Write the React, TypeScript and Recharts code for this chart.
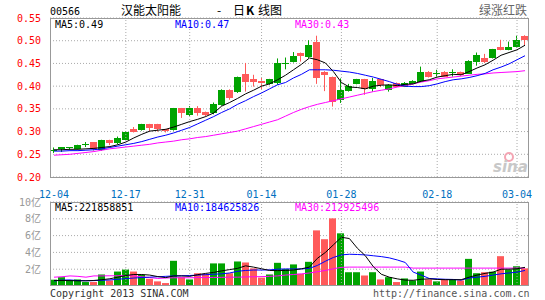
import React from 'react';
import { ComposedChart, Bar, Line, XAxis, YAxis, CartesianGrid, ReferenceLine } from 'recharts';

const tickIdx = [0, 9, 17, 26, 36, 48, 58];
const tickLabels = ['12-04', '12-17', '12-31', '01-14', '01-28', '02-18', '03-04'];
const priceTicks = [0.2, 0.25, 0.3, 0.35, 0.4, 0.45, 0.5, 0.55];
const volTicks = [2, 4, 6, 8, 10];

const open = [0.259, 0.261, 0.262, 0.262, 0.271, 0.276, 0.260, 0.281, 0.274, 0.283,
  0.305, 0.303, 0.316, 0.316, 0.305, 0.303, 0.351, 0.335, 0.352, 0.343,
  0.340, 0.359, 0.392, 0.386, 0.427, 0.415, 0.412, 0.405, 0.406, 0.449,
  0.453, 0.472, 0.464, 0.497, 0.432, 0.420, 0.369, 0.390, 0.405, 0.415,
  0.395, 0.415, 0.393, 0.407, 0.399, 0.405, 0.410, 0.432, 0.428, 0.432,
  0.430, 0.431, 0.428, 0.454, 0.462, 0.462, 0.486, 0.480, 0.486, 0.511];
const high = [0.265, 0.266, 0.266, 0.271, 0.277, 0.277, 0.282, 0.282, 0.289, 0.301,
  0.310, 0.317, 0.317, 0.317, 0.306, 0.352, 0.352, 0.356, 0.356, 0.344,
  0.364, 0.393, 0.393, 0.421, 0.451, 0.425, 0.418, 0.416, 0.461, 0.463,
  0.475, 0.474, 0.501, 0.511, 0.433, 0.421, 0.417, 0.405, 0.416, 0.416,
  0.418, 0.416, 0.404, 0.408, 0.409, 0.413, 0.443, 0.433, 0.436, 0.433,
  0.437, 0.432, 0.457, 0.474, 0.471, 0.482, 0.502, 0.498, 0.511, 0.512];
const low = [0.253, 0.255, 0.260, 0.261, 0.266, 0.258, 0.258, 0.270, 0.272, 0.282,
  0.298, 0.302, 0.301, 0.300, 0.298, 0.302, 0.330, 0.334, 0.335, 0.333,
  0.338, 0.357, 0.370, 0.385, 0.388, 0.399, 0.392, 0.403, 0.403, 0.437,
  0.452, 0.454, 0.462, 0.405, 0.389, 0.355, 0.363, 0.388, 0.404, 0.381,
  0.388, 0.398, 0.388, 0.398, 0.398, 0.404, 0.409, 0.419, 0.421, 0.420,
  0.421, 0.423, 0.427, 0.445, 0.451, 0.461, 0.479, 0.479, 0.485, 0.490];
const close = [0.260, 0.265, 0.265, 0.270, 0.272, 0.261, 0.281, 0.275, 0.285, 0.300,
  0.299, 0.316, 0.307, 0.305, 0.300, 0.351, 0.340, 0.351, 0.340, 0.336,
  0.360, 0.392, 0.374, 0.420, 0.410, 0.408, 0.407, 0.415, 0.451, 0.450,
  0.466, 0.466, 0.490, 0.418, 0.426, 0.366, 0.391, 0.401, 0.415, 0.392,
  0.412, 0.401, 0.403, 0.399, 0.408, 0.412, 0.431, 0.420, 0.429, 0.421,
  0.431, 0.424, 0.456, 0.469, 0.453, 0.481, 0.480, 0.486, 0.502, 0.502];
const ma5 = [0.260, 0.260, 0.261, 0.261, 0.262, 0.263, 0.265, 0.267, 0.271, 0.277,
  0.286, 0.294, 0.301, 0.303, 0.305, 0.310, 0.316, 0.322, 0.327, 0.333,
  0.341, 0.356, 0.364, 0.373, 0.383, 0.391, 0.400, 0.405, 0.414, 0.424,
  0.436, 0.448, 0.462, 0.458, 0.451, 0.432, 0.408, 0.398, 0.397, 0.394,
  0.400, 0.402, 0.403, 0.401, 0.404, 0.405, 0.411, 0.414, 0.420, 0.423,
  0.426, 0.425, 0.432, 0.440, 0.447, 0.457, 0.468, 0.474, 0.480, 0.490];
const ma10 = [0.257, 0.257, 0.258, 0.258, 0.259, 0.260, 0.262, 0.265, 0.268, 0.271,
  0.274, 0.278, 0.283, 0.288, 0.292, 0.297, 0.303, 0.309, 0.317, 0.325,
  0.333, 0.342, 0.350, 0.360, 0.368, 0.377, 0.385, 0.394, 0.403, 0.408,
  0.418, 0.426, 0.436, 0.436, 0.436, 0.435, 0.433, 0.431, 0.428, 0.424,
  0.420, 0.415, 0.410, 0.404, 0.400, 0.399, 0.399, 0.401, 0.405, 0.410,
  0.414, 0.416, 0.419, 0.423, 0.428, 0.436, 0.442, 0.449, 0.458, 0.467];
const ma30 = [0.248, 0.249, 0.250, 0.252, 0.254, 0.256, 0.259, 0.262, 0.264, 0.266,
  0.268, 0.270, 0.272, 0.275, 0.277, 0.279, 0.282, 0.284, 0.287, 0.289,
  0.292, 0.295, 0.298, 0.301, 0.306, 0.311, 0.316, 0.321, 0.326, 0.334,
  0.342, 0.349, 0.355, 0.360, 0.364, 0.368, 0.372, 0.376, 0.380, 0.384,
  0.388, 0.391, 0.394, 0.398, 0.401, 0.405, 0.409, 0.412, 0.416, 0.418,
  0.420, 0.422, 0.424, 0.426, 0.427, 0.429, 0.430, 0.431, 0.432, 0.434];

// volume in 亿
const vol = [0.75, 1.05, 0.66, 0.78, 0.47, 0.47, 1.37, 0.66, 1.72, 1.95,
  1.72, 1.33, 0.86, 0.55, 0.35, 3.0, 1.05, 0.78, 1.52, 1.44,
  2.69, 2.69, 1.52, 2.92, 2.8, 2.1, 1.0, 1.37, 2.76, 2.03,
  2.57, 1.45, 2.88, 6.62, 5.57, 8.05, 6.27, 1.64, 1.64, 1.25,
  1.64, 0.78, 1.05, 0.47, 0.9, 0.66, 1.72, 0.78, 0.55, 0.78,
  0.78, 0.66, 3.23, 1.52, 1.64, 1.7, 3.55, 1.95, 2.35, 2.1];
const vma5 = [0.66, 0.66, 0.64, 0.62, 0.62, 0.66, 0.75, 0.86, 1.05, 1.25,
  1.37, 1.37, 1.3, 1.12, 1.0, 1.2, 1.2, 1.15, 1.35, 1.5,
  1.62, 1.8, 1.95, 2.1, 2.4, 2.25, 2.05, 1.85, 1.83, 1.85,
  1.9, 2.05, 2.25, 3.3, 4.0, 4.9, 5.8, 5.65, 4.5, 3.6,
  2.3, 1.4, 1.05, 0.85, 0.7, 0.68, 0.8, 0.85, 0.78, 0.75,
  0.75, 0.75, 1.05, 1.3, 1.5, 1.65, 2.0, 2.0, 2.05, 2.22];
const vma10 = [0.6, 0.7, 0.72, 0.65, 0.62, 0.64, 0.68, 0.72, 0.8, 0.88,
  0.95, 1.0, 1.05, 1.1, 1.15, 1.2, 1.22, 1.25, 1.3, 1.35,
  1.4, 1.45, 1.55, 1.75, 1.85, 1.9, 1.9, 1.92, 2.0, 2.03,
  2.03, 2.03, 2.1, 2.45, 2.95, 3.4, 3.7, 3.78, 3.75, 3.7,
  3.6, 3.5, 3.35, 3.1, 2.8, 1.65, 1.3, 0.9, 0.85, 0.8,
  0.78, 0.7, 0.95, 1.05, 1.15, 1.3, 1.45, 1.55, 1.65, 1.85];
const vma30 = [1.05, 1.1, 1.2, 1.15, 1.05, 1.2, 1.2, 1.22, 1.22, 1.25,
  1.2, 1.1, 1.0, 0.9, 0.95, 0.98, 0.98, 0.98, 1.0, 1.0,
  1.02, 1.03, 1.05, 1.05, 1.08, 1.1, 1.12, 1.15, 1.2, 1.3,
  1.37, 1.44, 1.55, 1.7, 1.85, 2.05, 2.22, 2.25, 2.25, 2.25,
  2.25, 2.25, 2.25, 2.25, 2.25, 2.13, 2.13, 2.13, 2.13, 2.13,
  2.13, 2.13, 2.13, 2.13, 2.13, 2.13, 2.13, 2.13, 2.13, 2.13];

const RED = '#FF5A5A';
const GREEN = '#00A300';
const GRID = '#aaaaaa';
const BORDER = '#999999';
const MONO = '"DejaVu Sans Mono", monospace';
const CJK = '"Noto Sans CJK SC", sans-serif';

const W = 545;
const LEFT = 50;
const RIGHT = 16;
const MAIN_TOP = 18;
const MAIN_H = 200;
const XAXIS_H = 23;
const VOL_TOP = 190;
const VOL_MARGIN = 12;
const VOL_H = 96;

const data = open.map((o, i) => ({
  i,
  o,
  h: high[i],
  l: low[i],
  c: close[i],
  ma5: ma5[i],
  ma10: ma10[i],
  ma30: ma30[i],
  v: vol[i],
  vma5: vma5[i],
  vma10: vma10[i],
  vma30: vma30[i],
}));

const Candle = (props: any) => {
  const { x, y, width, height, payload } = props;
  const color = payload.c >= payload.o ? GREEN : RED;
  const top = Math.min(y, y + height);
  const span = Math.abs(height);
  const range = payload.h - payload.l || 1;
  const py = (v: number) => top + ((payload.h - v) / range) * span;
  const yo = py(payload.o);
  const yc = py(payload.c);
  const bx = Math.round(x);
  const bw = Math.round(width);
  const cx = bx + Math.floor(bw / 2) + 0.5;
  const bTop = Math.round(Math.min(yo, yc));
  const bH = Math.max(1, Math.round(Math.abs(yo - yc)));
  return (
    <g>
      <line x1={cx} x2={cx} y1={top} y2={top + span} stroke={color} strokeWidth={1} />
      <rect x={bx} y={bTop} width={bw} height={bH} fill={color} />
    </g>
  );
};

const VolBar = (props: any) => {
  const { x, y, width, height, payload } = props;
  const color = payload.c >= payload.o ? GREEN : RED;
  return <rect x={Math.round(x)} y={y} width={Math.round(width)} height={height} fill={color} />;
};

const labelFor = (v: number) => {
  const k = tickIdx.indexOf(v);
  return k >= 0 ? tickLabels[k] : '';
};

const App = () => {
  const plotW = W - LEFT - RIGHT;
  const mainPlotH = MAIN_H - MAIN_TOP - XAXIS_H;
  const volPlotH = VOL_H - VOL_MARGIN;
  return (
    <div style={{ position: 'absolute', left: 0, top: 0, width: W, height: 300, background: '#fff' }}>
      <div style={{ position: 'absolute', left: 0, top: 0 }}>
        <ComposedChart width={W} height={MAIN_H} data={data} barSize={7}
          margin={{ top: MAIN_TOP, right: RIGHT, left: 0, bottom: 0 }}>
          <CartesianGrid vertical={false} stroke={GRID} strokeDasharray="1 2" />
          {tickIdx.slice(1).map((t) => (
            <ReferenceLine key={t} x={t} stroke={GRID} strokeDasharray="1 2" />
          ))}
          <XAxis dataKey="i" ticks={tickIdx} interval={0} tickFormatter={labelFor} height={XAXIS_H}
            axisLine={false} tickLine={false} tickMargin={8}
            tick={{ fill: '#0070C0', fontSize: 10, fontFamily: MONO }} />
          <YAxis domain={[0.2, 0.55]} ticks={priceTicks} width={LEFT} interval={0}
            tickFormatter={(v: number) => v.toFixed(2)} axisLine={false} tickLine={false} tickMargin={3}
            tick={{ fill: '#FF0000', fontSize: 10, fontFamily: MONO }} />
          <Bar dataKey={(d: any) => [d.l, d.h]} shape={<Candle />} isAnimationActive={false} />
          <Line dataKey="ma30" stroke="#FF00FF" strokeWidth={1} dot={false} isAnimationActive={false} />
          <Line dataKey="ma10" stroke="#0000FF" strokeWidth={1} dot={false} isAnimationActive={false} />
          <Line dataKey="ma5" stroke="#000000" strokeWidth={1} dot={false} isAnimationActive={false} />
        </ComposedChart>
      </div>
      <div style={{ position: 'absolute', left: 0, top: VOL_TOP }}>
        <ComposedChart width={W} height={VOL_H} data={data} barSize={7}
          margin={{ top: VOL_MARGIN, right: RIGHT, left: 0, bottom: 0 }}>
          <CartesianGrid vertical={false} stroke={GRID} strokeDasharray="1 2" />
          {tickIdx.slice(1).map((t) => (
            <ReferenceLine key={t} x={t} stroke={GRID} strokeDasharray="1 2" />
          ))}
          <XAxis dataKey="i" height={0} tick={false} axisLine={false} tickLine={false} />
          <YAxis domain={[0, 10]} ticks={volTicks} width={LEFT} interval={0}
            tickFormatter={(v: number) => v + '亿'} axisLine={false} tickLine={false} tickMargin={3}
            tick={{ fill: '#999999', fontSize: 10, fontFamily: MONO + ', ' + CJK }} />
          <Bar dataKey="v" shape={<VolBar />} isAnimationActive={false} />
          <Line dataKey="vma30" stroke="#FF00FF" strokeWidth={1} dot={false} isAnimationActive={false} />
          <Line dataKey="vma10" stroke="#0000FF" strokeWidth={1} dot={false} isAnimationActive={false} />
          <Line dataKey="vma5" stroke="#000000" strokeWidth={1} dot={false} isAnimationActive={false} />
        </ComposedChart>
      </div>
      <svg width={W} height={300} style={{ position: 'absolute', left: 0, top: 0, pointerEvents: 'none' }}>
        <rect x={LEFT + 0.5} y={MAIN_TOP + 0.5} width={plotW - 1} height={mainPlotH} fill="none" stroke={BORDER} />
        <rect x={LEFT + 0.5} y={VOL_TOP + VOL_MARGIN + 0.5} width={plotW - 1} height={volPlotH - 1} fill="none" stroke={BORDER} />
        <text x={50} y={15} fontFamily={MONO} fontSize={10} fill="#000">00566</text>
        <text x={121} y={14.5} fontFamily={CJK} fontSize={12} fill="#000">汉能太阳能</text>
        <text x={217} y={14.5} fontFamily={CJK} fontSize={12} fill="#000">-</text>
        <text x={233} y={14.5} fontFamily={CJK} fontSize={12} fill="#000">日</text>
        <text x={246} y={14.5} fontFamily={CJK} fontSize={12} fontWeight="bold" fill="#000">K</text>
        <text x={258} y={14.5} fontFamily={CJK} fontSize={12} fill="#000">线图</text>
        <text x={479} y={14.5} fontFamily={CJK} fontSize={12} fill="#666">绿涨红跌</text>
        <text x={55} y={27.5} fontFamily={MONO} fontSize={10} fill="#000">MA5:0.49</text>
        <text x={175} y={27.5} fontFamily={MONO} fontSize={10} fill="#0000FF">MA10:0.47</text>
        <text x={295} y={27.5} fontFamily={MONO} fontSize={10} fill="#FF00FF">MA30:0.43</text>
        <text x={55} y={211} fontFamily={MONO} fontSize={10} fill="#000">MA5:221858851</text>
        <text x={175} y={211} fontFamily={MONO} fontSize={10} fill="#0000FF">MA10:184625826</text>
        <text x={295} y={211} fontFamily={MONO} fontSize={10} fill="#FF00FF">MA30:212925496</text>
        <text x={50} y={296.5} fontFamily={MONO} fontSize={10} fill="#333">Copyright 2013 SINA.COM</text>
        <text x={373} y={296.5} fontFamily={MONO} fontSize={10} fill="#555">http://finance.sina.com.cn</text>
        <circle cx={509} cy={157} r={4} fill="none" stroke="#f4a6b4" strokeWidth={2} />
        <text x={493} y={172} fontFamily="DejaVu Sans" fontSize={15} fontWeight="bold" fontStyle="italic" fill="#c8c8c8">sina</text>
      </svg>
    </div>
  );
};

export default App;
